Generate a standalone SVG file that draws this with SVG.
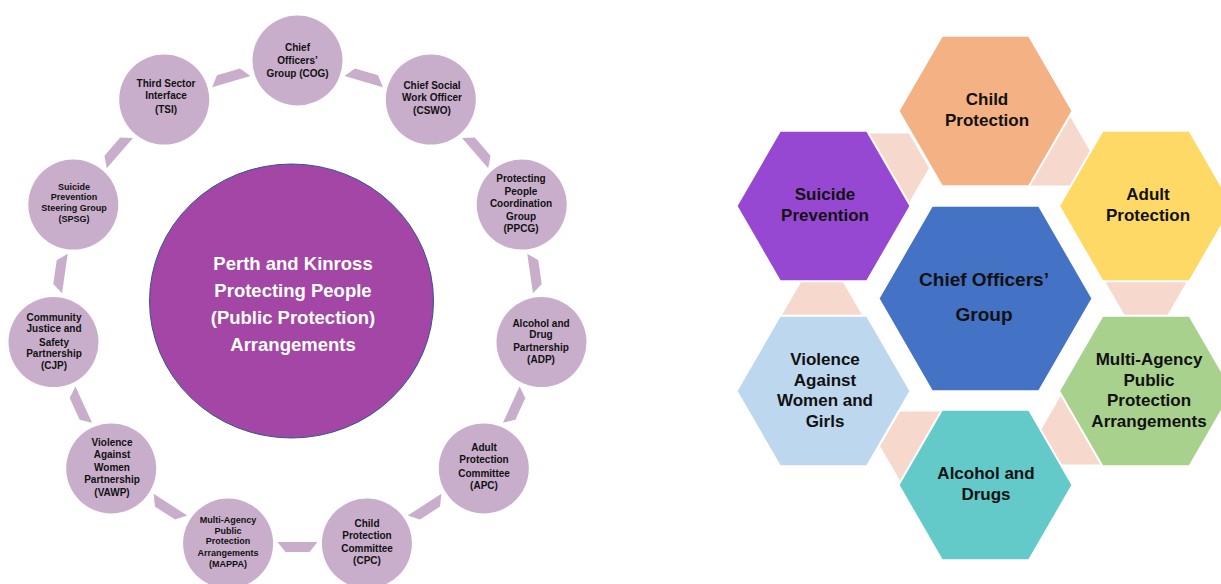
<svg xmlns="http://www.w3.org/2000/svg" xmlns:xlink="http://www.w3.org/1999/xlink" width="1221" height="584" viewBox="0 0 1221 584">
<defs>
<style>
.sc{fill:#C8AECB}
.t{font-family:"Liberation Sans",Arial,sans-serif;font-weight:bold;text-anchor:middle;fill:#111}
.s10{font-size:10px}
.s9{font-size:9px}
.big{font-family:"Liberation Sans",Arial,sans-serif;font-weight:bold;text-anchor:middle;fill:#fff;font-size:18.5px}
.hx{stroke:#fff;stroke-width:2}
.h17{font-size:17px}
.h19{font-size:19px}
.pc{fill:#F6D8CD}
</style>
<polygon id="conn" class="sc" points="-20,-235 20,-235 12,-245 -12,-245"/>
</defs>
<rect width="1221" height="584" fill="#fff"/>

<!-- Left: ring connectors -->
<g id="connectors">
<use xlink:href="#conn" href="#conn" transform="translate(297.5 307) rotate(16.36)"/>
<use xlink:href="#conn" href="#conn" transform="translate(297.5 307) rotate(49.09)"/>
<use xlink:href="#conn" href="#conn" transform="translate(297.5 307) rotate(81.82)"/>
<use xlink:href="#conn" href="#conn" transform="translate(297.5 307) rotate(114.55)"/>
<use xlink:href="#conn" href="#conn" transform="translate(297.5 307) rotate(147.27)"/>
<use xlink:href="#conn" href="#conn" transform="translate(297.5 307) rotate(180)"/>
<use xlink:href="#conn" href="#conn" transform="translate(297.5 307) rotate(212.73)"/>
<use xlink:href="#conn" href="#conn" transform="translate(297.5 307) rotate(245.45)"/>
<use xlink:href="#conn" href="#conn" transform="translate(297.5 307) rotate(278.18)"/>
<use xlink:href="#conn" href="#conn" transform="translate(297.5 307) rotate(310.91)"/>
<use xlink:href="#conn" href="#conn" transform="translate(297.5 307) rotate(343.64)"/>
<!-- Right: hexagon connectors -->
<polygon class="pc" points="849,168 869,133.4 909,133.4 929,168 909,202.6 869,202.6"/>
<polygon class="pc" points="1010,151 1030,116.4 1070,116.4 1090,151 1070,185.6 1030,185.6"/>
<polygon class="pc" points="1106,283 1126,248.4 1166,248.4 1186,283 1166,317.6 1126,317.6"/>
<polygon class="pc" points="1041,430 1061,395.4 1101,395.4 1121,430 1101,464.6 1061,464.6"/>
<polygon class="pc" points="880,446 900,411.4 940,411.4 960,446 940,480.6 900,480.6"/>
<polygon class="pc" points="782,315 802,280.4 842,280.4 862,315 842,349.6 802,349.6"/>
</g>

<g id="pkpp">
<ellipse cx="291.5" cy="301" rx="142" ry="137" fill="#A346A5" stroke="#2F5597" stroke-width="1"/>
<text class="big" x="293" y="270">Perth and Kinross</text>
<text class="big" x="293" y="297">Protecting People</text>
<text class="big" x="293" y="324">(Public Protection)</text>
<text class="big" x="293" y="351">Arrangements</text>
</g>

<g id="cog"><circle class="sc" cx="297.5" cy="60.5" r="45"/>
<text class="t s10" x="297.5" y="50.5">Chief</text><text class="t s10" x="297.5" y="63.5">Officers’</text><text class="t s10" x="297.5" y="76.5">Group (COG)</text></g>

<g id="cswo"><circle class="sc" cx="430.8" cy="99.6" r="45"/>
<text class="t s10" x="432" y="88.5">Chief Social</text><text class="t s10" x="432" y="100.5">Work Officer</text><text class="t s10" x="432" y="113.5">(CSWO)</text></g>

<g id="ppcg"><circle class="sc" cx="521.7" cy="204.6" r="45"/>
<text class="t s10" x="521" y="181.5">Protecting</text><text class="t s10" x="521" y="194.5">People</text><text class="t s10" x="521" y="206.5">Coordination</text><text class="t s10" x="521" y="219.5">Group</text><text class="t s10" x="521" y="231.5">(PPCG)</text></g>

<g id="adp"><circle class="sc" cx="541.5" cy="342.1" r="45"/>
<text class="t s10" x="541" y="326.5">Alcohol and</text><text class="t s10" x="541" y="338">Drug</text><text class="t s10" x="541" y="350.5">Partnership</text><text class="t s10" x="541" y="362.5">(ADP)</text></g>

<g id="apc"><circle class="sc" cx="483.8" cy="468.4" r="45"/>
<text class="t s10" x="484" y="450.5">Adult</text><text class="t s10" x="484" y="462.5">Protection</text><text class="t s10" x="484" y="476.5">Committee</text><text class="t s10" x="484" y="488.5">(APC)</text></g>

<g id="cpc"><circle class="sc" cx="366.9" cy="543.5" r="45"/>
<text class="t s10" x="367" y="526.5">Child</text><text class="t s10" x="367" y="538.5">Protection</text><text class="t s10" x="367" y="551.5">Committee</text><text class="t s10" x="367" y="563.5">(CPC)</text></g>

<g id="mappa"><circle class="sc" cx="228.1" cy="543.5" r="45"/>
<text class="t s9" x="228" y="523">Multi-Agency</text><text class="t s9" x="228" y="533.5">Public</text><text class="t s9" x="228" y="544">Protection</text><text class="t s9" x="228" y="556">Arrangements</text><text class="t s9" x="228" y="567">(MAPPA)</text></g>

<g id="vawp"><circle class="sc" cx="111.2" cy="468.4" r="45"/>
<text class="t s10" x="112" y="445.5">Violence</text><text class="t s10" x="112" y="457.5">Against</text><text class="t s10" x="112" y="470.5">Women</text><text class="t s10" x="112" y="482.5">Partnership</text><text class="t s10" x="112" y="495.5">(VAWP)</text></g>

<g id="cjp"><circle class="sc" cx="53.5" cy="342.1" r="45"/>
<text class="t s10" x="54" y="320.5">Community</text><text class="t s10" x="54" y="331.5">Justice and</text><text class="t s10" x="54" y="345.5">Safety</text><text class="t s10" x="54" y="356.5">Partnership</text><text class="t s10" x="54" y="368.5">(CJP)</text></g>

<g id="spsg"><circle class="sc" cx="73.3" cy="204.6" r="45"/>
<text class="t s9" x="74" y="190">Suicide</text><text class="t s9" x="74" y="200">Prevention</text><text class="t s9" x="74" y="210.5">Steering Group</text><text class="t s9" x="74" y="222">(SPSG)</text></g>

<g id="tsi"><circle class="sc" cx="164.2" cy="99.6" r="45"/>
<text class="t s10" x="166" y="86.5">Third Sector</text><text class="t s10" x="166" y="98.5">Interface</text><text class="t s10" x="166" y="113">(TSI)</text></g>

<!-- Right: hexagon radial -->
<g id="hex-child"><polygon class="hx" fill="#F4B183" points="898.5,111 942,35.7 1029,35.7 1072.5,111 1029,186.3 942,186.3"/>
<text class="t h17" x="987" y="105">Child</text><text class="t h17" x="987" y="126">Protection</text></g>

<g id="hex-adult"><polygon class="hx" fill="#FFD966" points="1059,206 1102.5,130.7 1189.5,130.7 1233,206 1189.5,281.3 1102.5,281.3"/>
<text class="t h17" x="1148" y="200">Adult</text><text class="t h17" x="1148" y="221">Protection</text></g>

<g id="hex-mappa"><polygon class="hx" fill="#A9D18E" points="1059,391 1102.5,315.7 1189.5,315.7 1233,391 1189.5,466.3 1102.5,466.3"/>
<text class="t h17" x="1149" y="365">Multi-Agency</text><text class="t h17" x="1149" y="386">Public</text><text class="t h17" x="1149" y="406">Protection</text><text class="t h17" x="1149" y="427">Arrangements</text></g>

<g id="hex-alcohol"><polygon class="hx" fill="#63C9C9" points="898.5,485 942,409.7 1029,409.7 1072.5,485 1029,560.3 942,560.3"/>
<text class="t h17" x="986" y="479">Alcohol and</text><text class="t h17" x="986" y="500">Drugs</text></g>

<g id="hex-vawg"><polygon class="hx" fill="#BDD7EE" points="736.5,391 780,315.7 867,315.7 910.5,391 867,466.3 780,466.3"/>
<text class="t h17" x="825" y="365">Violence</text><text class="t h17" x="825" y="386">Against</text><text class="t h17" x="825" y="406">Women and</text><text class="t h17" x="825" y="427">Girls</text></g>

<g id="hex-suicide"><polygon class="hx" fill="#9748D3" points="736.5,206 780,130.7 867,130.7 910.5,206 867,281.3 780,281.3"/>
<text class="t h17" x="825" y="200">Suicide</text><text class="t h17" x="825" y="221">Prevention</text></g>

<g id="hex-cog"><polygon class="hx" fill="#4472C4" points="878.5,298.5 932,205.8 1039,205.8 1092.5,298.5 1039,391.2 932,391.2"/>
<text class="t h19" x="984" y="286">Chief Officers’</text><text class="t h19" x="984" y="321">Group</text></g>
</svg>
